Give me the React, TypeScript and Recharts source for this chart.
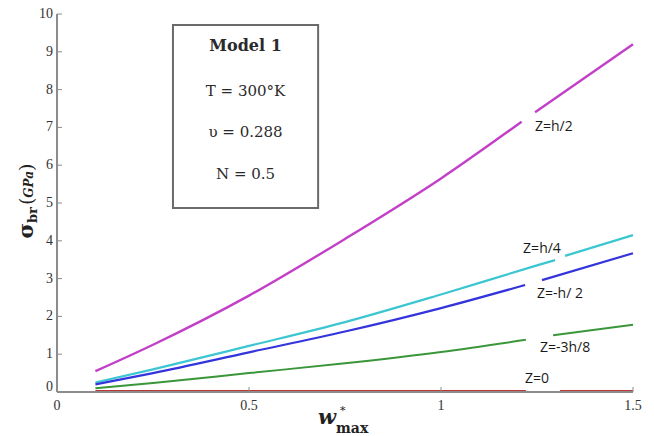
import React from "react";
import {
  LineChart,
  Line,
  XAxis,
  YAxis,
  ReferenceDot,
  ReferenceArea,
} from "recharts";

// ---- data ----
const xTicks = [0, 0.5, 1, 1.5];
const yTicks = [0, 1, 2, 3, 4, 5, 6, 7, 8, 9, 10];

const magentaW = [0.1, 0.25, 0.5, 0.75, 1.0, 1.21, 1.23, 1.245, 1.5];
const magentaS = [0.55, 1.25, 2.55, 4.05, 5.65, 7.15, null, 7.4, 9.2];

const cyanW = [0.1, 0.25, 0.5, 0.75, 1.0, 1.25, 1.297, 1.31, 1.323, 1.5];
const cyanS = [0.25, 0.6, 1.22, 1.85, 2.58, 3.35, 3.49, null, 3.6, 4.15];

const blueW = [0.1, 0.25, 0.5, 0.75, 1.0, 1.219, 1.24, 1.263, 1.5];
const blueS = [0.2, 0.5, 1.05, 1.6, 2.22, 2.83, null, 2.96, 3.67];

const greenW = [0.1, 0.25, 0.5, 0.75, 1.0, 1.221, 1.26, 1.292, 1.5];
const greenS = [0.1, 0.24, 0.5, 0.76, 1.06, 1.38, null, 1.5, 1.78];

const redW = [0.1, 0.5, 1.0, 1.221, 1.27, 1.31, 1.5];
const redS = [0.01, 0.01, 0.01, 0.01, null, 0.01, 0.01];

const curveLabels = [
  { text: "Z=h/2", w: 1.294, s: 7.04 },
  { text: "Z=h/4", w: 1.263, s: 3.81 },
  { text: "Z=-h/ 2", w: 1.31, s: 2.62 },
  { text: "Z=-3h/8", w: 1.323, s: 1.19 },
  { text: "Z=0", w: 1.25, s: 0.37 },
];

const boxLines = ["Model 1", "T = 300°K", "υ = 0.288", "N = 0.5"];
const box = { w1: 0.302, w2: 0.68, s1: 4.87, s2: 9.71 };

const toRows = (ws: number[], ss: (number | null)[]) =>
  ws.map((w, i) => ({ w, s: ss[i] }));

// ---- layout constants ----
const W = 654;
const H = 436;
const PLOT_TOP = 14;
const PLOT_BOTTOM = 392;
const PLOT_LEFT = 57;
const PLOT_RIGHT = 633;
const FRAME = "#8c8c8c";
const TICK_TEXT = "#333333";
const SERIF = "'Liberation Serif', 'Times New Roman', serif";

const fmtX = (v: number) => (v === 0 ? "0" : v === 1 ? "1" : String(v));

const BottomTick = (props: any) => {
  const { x, payload } = props;
  return (
    <g>
      <line x1={x} x2={x} y1={PLOT_BOTTOM} y2={PLOT_BOTTOM - 5} stroke={FRAME} strokeWidth={1} />
      <text x={x} y={PLOT_BOTTOM + 18} textAnchor="middle" fontFamily={SERIF} fontSize={14} fill={TICK_TEXT}>
        {fmtX(payload.value)}
      </text>
    </g>
  );
};

const TopTick = (props: any) => {
  const { x } = props;
  return <line x1={x} x2={x} y1={PLOT_TOP} y2={PLOT_TOP + 5} stroke={FRAME} strokeWidth={1} />;
};

const LeftTick = (props: any) => {
  const { y, payload } = props;
  const dy = payload.value === 0 ? -5 : 0;
  return (
    <g>
      <line x1={PLOT_LEFT} x2={PLOT_LEFT + 5} y1={y} y2={y} stroke={FRAME} strokeWidth={1} />
      <text x={PLOT_LEFT - 4} y={y + 4 + dy} textAnchor="end" fontFamily={SERIF} fontSize={14} fill={TICK_TEXT}>
        {payload.value}
      </text>
    </g>
  );
};

const RightTick = (props: any) => {
  const { y } = props;
  return <line x1={PLOT_RIGHT} x2={PLOT_RIGHT - 5} y1={y} y2={y} stroke={FRAME} strokeWidth={1} />;
};

const YLabel = () => (
  <text transform="rotate(-90)" x={-201} y={33} textAnchor="middle" fill="#222" fontFamily="'DejaVu Serif', serif">
    <tspan fontWeight="bold" fontSize={21}>σ</tspan>
    <tspan fontWeight="bold" fontSize={13} dy={4}>br</tspan>
    <tspan fontSize={19} dy={-4} dx={2}>(</tspan>
    <tspan fontStyle="italic" fontWeight="bold" fontSize={12}>GPa</tspan>
    <tspan fontSize={19}>)</tspan>
  </text>
);

const XLabel = () => (
  <g fill="#222" fontFamily="'DejaVu Serif', serif">
    <text x={318} y={424} fontWeight="bold" fontStyle="italic" fontSize={21}>w</text>
    <text x={340} y={414} fontSize={11}>*</text>
    <text x={336} y={433} fontWeight="bold" fontSize={14}>max</text>
  </g>
);

const CurveLabel = (text: string) => (props: any) => {
  const vb = props.viewBox || {};
  const cx = (vb.x ?? 0) + (vb.width ?? 0) / 2;
  const cy = (vb.y ?? 0) + (vb.height ?? 0) / 2;
  return (
    <text x={cx} y={cy + 5} textAnchor="middle" fontFamily="'Open Sans', sans-serif" fontSize={14} fill="#1a1a1a">
      {text}
    </text>
  );
};

const BoxContent = (props: any) => {
  const vb = props.viewBox || {};
  const cx = vb.x + vb.width / 2;
  const offsets = [26, 71, 112, 154];
  return (
    <g>
      {boxLines.map((t, i) => (
        <text
          key={t}
          x={cx}
          y={vb.y + offsets[i]}
          textAnchor="middle"
          fontFamily="'DejaVu Serif', serif"
          fontSize={i === 0 ? 16 : 15}
          fontWeight={i === 0 ? "bold" : "normal"}
          fill="#2a2a2a"
        >
          {t}
        </text>
      ))}
    </g>
  );
};

export default function App() {
  return (
    <div style={{ position: "absolute", left: 0, top: 0, width: W, height: H, background: "#fff" }}>
      <LineChart
        width={W}
        height={H}
        margin={{ top: PLOT_TOP, right: W - PLOT_RIGHT, bottom: 0, left: 0 }}
      >
        <XAxis
          xAxisId="b"
          type="number"
          dataKey="w"
          domain={[0, 1.5]}
          ticks={xTicks}
          height={H - PLOT_BOTTOM}
          axisLine={{ stroke: FRAME, strokeWidth: 2 }}
          tickLine={false}
          tick={<BottomTick />}
          label={<XLabel />}
        />
        <XAxis
          xAxisId="t"
          orientation="top"
          type="number"
          dataKey="w"
          domain={[0, 1.5]}
          ticks={xTicks}
          height={0}
          axisLine={{ stroke: FRAME, strokeWidth: 2 }}
          tickLine={false}
          tick={<TopTick />}
        />
        <YAxis
          yAxisId="l"
          type="number"
          domain={[0, 10]}
          ticks={yTicks}
          width={PLOT_LEFT}
          axisLine={{ stroke: FRAME, strokeWidth: 2 }}
          tickLine={false}
          tick={<LeftTick />}
          label={<YLabel />}
        />
        <YAxis
          yAxisId="r"
          orientation="right"
          type="number"
          domain={[0, 10]}
          ticks={yTicks}
          width={0}
          axisLine={{ stroke: FRAME, strokeWidth: 2 }}
          tickLine={false}
          tick={<RightTick />}
        />
        <ReferenceArea
          xAxisId="b"
          yAxisId="l"
          x1={box.w1}
          x2={box.w2}
          y1={box.s1}
          y2={box.s2}
          fill="#ffffff"
          fillOpacity={1}
          stroke="#6a6a6a"
          strokeWidth={2}
          label={<BoxContent />}
        />
        <Line xAxisId="b" yAxisId="l" data={toRows(magentaW, magentaS)} dataKey="s" type="monotone" stroke="#c23fc8" strokeWidth={2.4} dot={false} isAnimationActive={false} connectNulls={false} />
        <Line xAxisId="b" yAxisId="l" data={toRows(cyanW, cyanS)} dataKey="s" type="monotone" stroke="#3cc6d2" strokeWidth={2.2} dot={false} isAnimationActive={false} connectNulls={false} />
        <Line xAxisId="b" yAxisId="l" data={toRows(blueW, blueS)} dataKey="s" type="monotone" stroke="#3434dc" strokeWidth={2.2} dot={false} isAnimationActive={false} connectNulls={false} />
        <Line xAxisId="b" yAxisId="l" data={toRows(greenW, greenS)} dataKey="s" type="monotone" stroke="#3a963a" strokeWidth={2} dot={false} isAnimationActive={false} connectNulls={false} />
        <Line xAxisId="b" yAxisId="l" data={toRows(redW, redS)} dataKey="s" type="monotone" stroke="#bf3535" strokeWidth={3} dot={false} isAnimationActive={false} connectNulls={false} />
        {curveLabels.map((c) => (
          <ReferenceDot
            key={c.text}
            xAxisId="b"
            yAxisId="l"
            x={c.w}
            y={c.s}
            r={0}
            fill="none"
            stroke="none"
            label={CurveLabel(c.text)}
          />
        ))}
      </LineChart>
    </div>
  );
}
